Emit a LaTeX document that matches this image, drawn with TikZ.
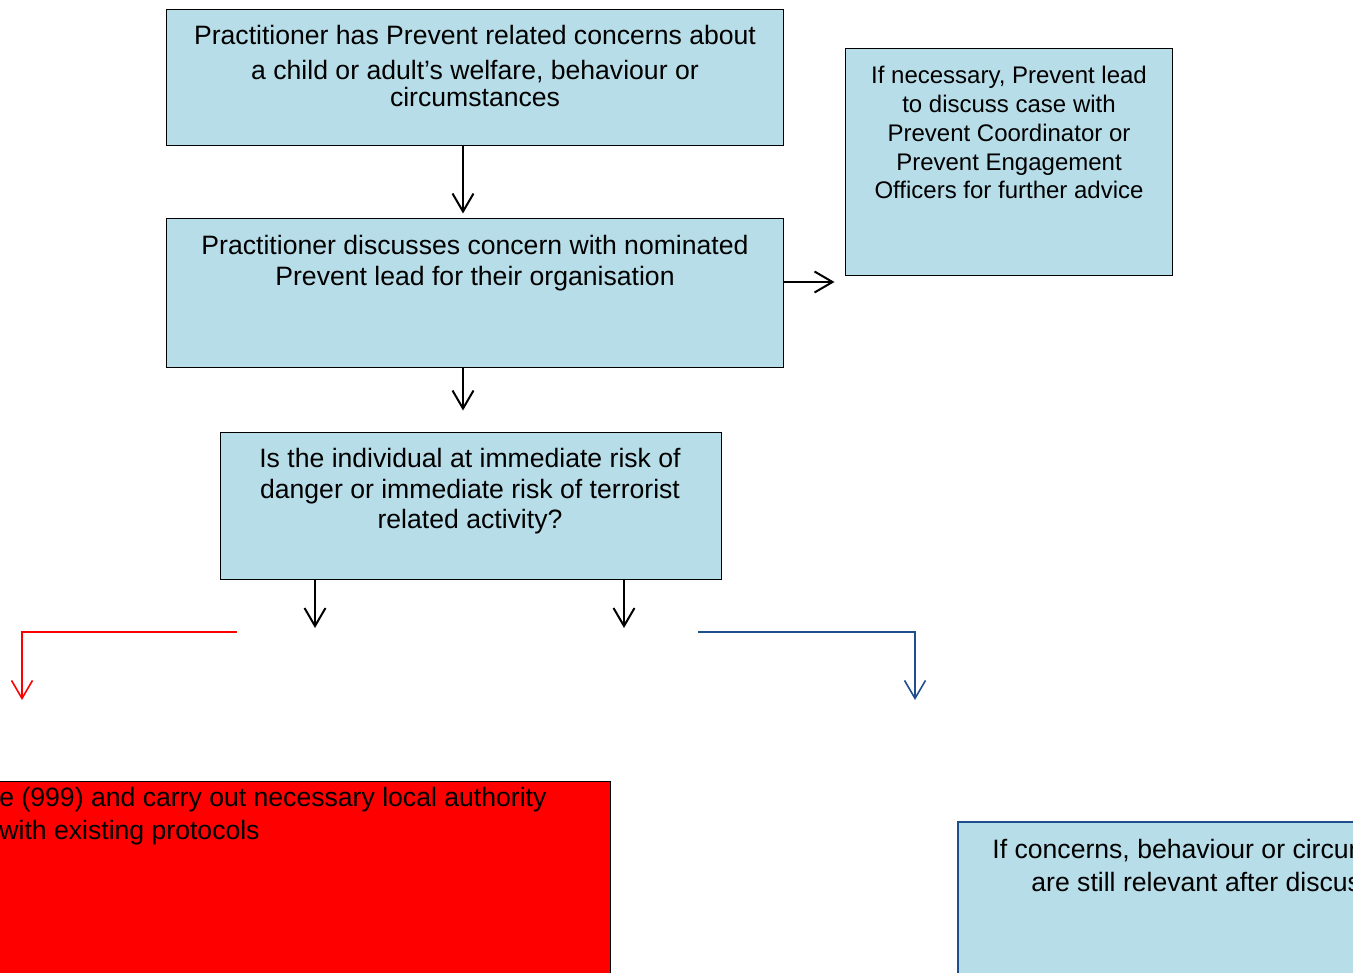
\documentclass[tikz,border=0pt]{standalone}
\usepackage{fontspec}
\setmainfont{Liberation Sans}
\usetikzlibrary{arrows.meta}
\definecolor{boxblue}{HTML}{B7DDE8}
\definecolor{linkblue}{HTML}{1F4E8C}
\tikzset{
  flowbox/.style={draw, fill=boxblue, line width=0.5pt, inner sep=0pt},
  flowtext/.style={anchor=north, align=center, inner sep=0pt},
  flowarrow/.style={line width=1pt, -{Straight Barb[length=9pt,width=10.5pt]}},
}
\begin{document}
\begin{tikzpicture}[x=0.5pt,y=-0.5pt]
	\useasboundingbox (0,0) rectangle (1353,973);
	\clip (0,0) rectangle (1353,973);
	% boxes
	\node[flowbox, minimum width=308.5pt, minimum height=68pt] (concern) at (474.5,78) {};
	\node[flowbox, minimum width=308.5pt, minimum height=74pt] (discuss) at (474.5,293) {};
	\node[flowbox, minimum width=163.5pt, minimum height=113pt] (advice) at (1008.5,162) {};
	\node[flowbox, minimum width=250.5pt, minimum height=73.5pt] (risk) at (470.5,505.5) {};
	\node[draw, fill=red, line width=0.5pt, inner sep=0pt, minimum width=315pt, minimum height=109.5pt] (police) at (295,890.5) {};
	\node[draw=linkblue, fill=boxblue, line width=1pt, inner sep=0pt, minimum width=221pt, minimum height=89pt] (relevant) at (1179,911) {};
	% texts
	\node[flowtext, font=\fontsize{13.3}{13.5}\selectfont] (concerntext) at (475,25)
		{Practitioner has Prevent related concerns about\\[4pt]a child or adult’s welfare, behaviour or\\circumstances};
	\node[flowtext, font=\fontsize{13.3}{15.5}\selectfont] (discusstext) at (475,235)
		{Practitioner discusses concern with nominated\\Prevent lead for their organisation};
	\node[flowtext, font=\fontsize{12}{14.4}\selectfont] (advicetext) at (1009,66)
		{If necessary, Prevent lead\\to discuss case with\\Prevent Coordinator or\\Prevent Engagement\\Officers for further advice};
	\node[flowtext, font=\fontsize{13.3}{15.25}\selectfont] (risktext) at (470,448)
		{Is the individual at immediate risk of\\danger or immediate risk of terrorist\\related activity?};
	\node[flowtext, anchor=north west, align=left, font=\fontsize{13.3}{16.5}\selectfont] (policetext) at (-1,787)
		{e (999) and carry out necessary local authority\\with existing protocols};
	\node[flowtext, anchor=north west, align=left, font=\fontsize{13.3}{16.5}\selectfont] (relevanttext) at (992,839)
		{If concerns, behaviour or circum\\\hspace*{19.5pt}are still relevant after discuss};
	% free ends
	\coordinate (yesend) at (315,628);
	\coordinate (noend) at (624,628);
	\coordinate (redstart) at (237,632);
	\coordinate (redend) at (22,700);
	\coordinate (bluestart) at (698,632);
	\coordinate (blueend) at (915,700);
	% arrows
	\draw[flowarrow, shorten >=2.5pt] ([xshift=-5.75pt]concern.south) -- ([xshift=-5.75pt]discuss.north);
	\draw[flowarrow, shorten >=10.5pt] ([xshift=-5.75pt]discuss.south) -- ([xshift=-5.75pt]discuss.south |- risk.north);
	\draw[flowarrow, shorten >=5pt] ([yshift=5.5pt]discuss.east) -- ([yshift=5.5pt]discuss.east -| advice.west);
	\draw[flowarrow] (risk.south -| yesend) -- (yesend);
	\draw[flowarrow] (risk.south -| noend) -- (noend);
	\draw[red, line width=0.8pt, -{Straight Barb[length=9pt,width=10.5pt]}] (redstart) -| (redend);
	\draw[linkblue, line width=0.8pt, -{Straight Barb[length=9pt,width=10.5pt]}] (bluestart) -| (blueend);
\end{tikzpicture}
\end{document}
